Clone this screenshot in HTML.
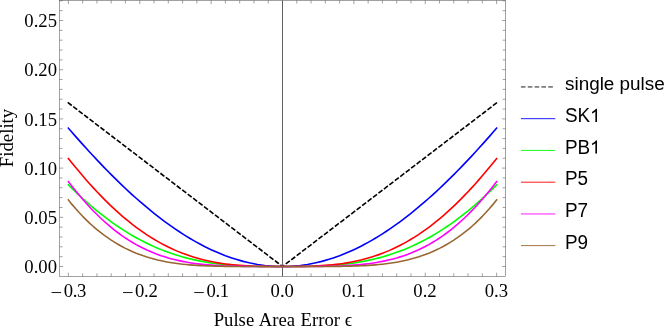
<!DOCTYPE html>
<html><head><meta charset="utf-8"><style>
html,body{margin:0;padding:0;background:#fff;}
div{will-change:transform;}
body{width:664px;height:327px;position:relative;overflow:hidden;font-family:"Liberation Serif",serif;color:#000;}
.yt{position:absolute;left:0;width:57px;text-align:right;font-size:18.7px;line-height:21px;height:21px;}
.xd,.xm{position:absolute;left:0;top:280px;font-size:18.7px;line-height:21px;white-space:nowrap;transform-origin:0 50%;}
.lg{position:absolute;left:564.8px;font-family:"Liberation Sans",sans-serif;font-size:18.9px;line-height:21px;white-space:nowrap;}
.cap{transform-origin:0 17px;}
.t1{position:absolute;opacity:0;}
.one{display:inline-block;width:0.556em;height:0.688em;vertical-align:baseline;}
.xl{position:absolute;left:182.9px;width:200px;text-align:center;top:309px;transform:translateY(0.7px);word-spacing:0.9px;font-size:18.7px;line-height:20px;white-space:nowrap;}
.yl{position:absolute;left:-42.9px;top:128px;width:100px;height:20px;text-align:center;font-size:18.8px;line-height:20px;transform:rotate(-90deg);transform-origin:50% 50%;white-space:nowrap;}
</style></head><body>
<svg width="664" height="327" viewBox="0 0 664 327" style="position:absolute;left:0;top:0">
<path d="M282.50 0.50V276.30" stroke="#000" stroke-width="0.62" fill="none"/>
<g clip-path="url(#c)">
<path d="M68.39 102.94 L282.50 266.50 L496.61 102.94" stroke="#000" stroke-width="1.6" fill="none" stroke-dasharray="3.4 3.46" stroke-linecap="square"/>
<path d="M68.39 128.16 L71.96 132.27 L75.53 136.35 L79.10 140.38 L82.66 144.37 L86.23 148.32 L89.80 152.22 L93.37 156.08 L96.94 159.88 L100.51 163.64 L104.07 167.35 L107.64 171.01 L111.21 174.61 L114.78 178.16 L118.35 181.65 L121.92 185.09 L125.49 188.47 L129.05 191.79 L132.62 195.05 L136.19 198.25 L139.76 201.39 L143.33 204.47 L146.90 207.48 L150.47 210.42 L154.03 213.30 L157.60 216.12 L161.17 218.86 L164.74 221.54 L168.31 224.14 L171.88 226.68 L175.44 229.14 L179.01 231.53 L182.58 233.85 L186.15 236.09 L189.72 238.26 L193.29 240.35 L196.86 242.37 L200.42 244.31 L203.99 246.17 L207.56 247.95 L211.13 249.66 L214.70 251.28 L218.27 252.83 L221.84 254.29 L225.40 255.68 L228.97 256.98 L232.54 258.20 L236.11 259.34 L239.68 260.39 L243.25 261.37 L246.81 262.25 L250.38 263.06 L253.95 263.78 L257.52 264.42 L261.09 264.97 L264.66 265.44 L268.23 265.82 L271.79 266.12 L275.36 266.33 L278.93 266.46 L282.50 266.50 L286.07 266.46 L289.64 266.33 L293.21 266.12 L296.77 265.82 L300.34 265.44 L303.91 264.97 L307.48 264.42 L311.05 263.78 L314.62 263.06 L318.19 262.25 L321.75 261.37 L325.32 260.39 L328.89 259.34 L332.46 258.20 L336.03 256.98 L339.60 255.68 L343.16 254.29 L346.73 252.83 L350.30 251.28 L353.87 249.66 L357.44 247.95 L361.01 246.17 L364.58 244.31 L368.14 242.37 L371.71 240.35 L375.28 238.26 L378.85 236.09 L382.42 233.85 L385.99 231.53 L389.56 229.14 L393.12 226.68 L396.69 224.14 L400.26 221.54 L403.83 218.86 L407.40 216.12 L410.97 213.30 L414.53 210.42 L418.10 207.48 L421.67 204.47 L425.24 201.39 L428.81 198.25 L432.38 195.05 L435.95 191.79 L439.51 188.47 L443.08 185.09 L446.65 181.65 L450.22 178.16 L453.79 174.61 L457.36 171.01 L460.93 167.35 L464.49 163.64 L468.06 159.88 L471.63 156.08 L475.20 152.22 L478.77 148.32 L482.34 144.37 L485.90 140.38 L489.47 136.35 L493.04 132.27 L496.61 128.16" stroke="#0000ff" stroke-width="1.6" fill="none" stroke-linejoin="round" stroke-linecap="square"/>
<path d="M68.39 184.82 L71.96 188.35 L75.53 191.81 L79.10 195.18 L82.66 198.47 L86.23 201.68 L89.80 204.81 L93.37 207.85 L96.94 210.80 L100.51 213.67 L104.07 216.46 L107.64 219.16 L111.21 221.78 L114.78 224.31 L118.35 226.75 L121.92 229.11 L125.49 231.39 L129.05 233.58 L132.62 235.69 L136.19 237.72 L139.76 239.66 L143.33 241.52 L146.90 243.30 L150.47 245.00 L154.03 246.62 L157.60 248.17 L161.17 249.63 L164.74 251.02 L168.31 252.34 L171.88 253.59 L175.44 254.76 L179.01 255.86 L182.58 256.90 L186.15 257.86 L189.72 258.77 L193.29 259.61 L196.86 260.39 L200.42 261.11 L203.99 261.77 L207.56 262.38 L211.13 262.93 L214.70 263.43 L218.27 263.89 L221.84 264.30 L225.40 264.66 L228.97 264.98 L232.54 265.26 L236.11 265.51 L239.68 265.72 L243.25 265.90 L246.81 266.05 L250.38 266.17 L253.95 266.27 L257.52 266.34 L261.09 266.40 L264.66 266.44 L268.23 266.47 L271.79 266.49 L275.36 266.50 L278.93 266.50 L282.50 266.50 L286.07 266.50 L289.64 266.50 L293.21 266.49 L296.77 266.47 L300.34 266.44 L303.91 266.40 L307.48 266.34 L311.05 266.27 L314.62 266.17 L318.19 266.05 L321.75 265.90 L325.32 265.72 L328.89 265.51 L332.46 265.26 L336.03 264.98 L339.60 264.66 L343.16 264.30 L346.73 263.89 L350.30 263.43 L353.87 262.93 L357.44 262.38 L361.01 261.77 L364.58 261.11 L368.14 260.39 L371.71 259.61 L375.28 258.77 L378.85 257.86 L382.42 256.90 L385.99 255.86 L389.56 254.76 L393.12 253.59 L396.69 252.34 L400.26 251.02 L403.83 249.63 L407.40 248.17 L410.97 246.62 L414.53 245.00 L418.10 243.30 L421.67 241.52 L425.24 239.66 L428.81 237.72 L432.38 235.69 L435.95 233.58 L439.51 231.39 L443.08 229.11 L446.65 226.75 L450.22 224.31 L453.79 221.78 L457.36 219.16 L460.93 216.46 L464.49 213.67 L468.06 210.80 L471.63 207.85 L475.20 204.81 L478.77 201.68 L482.34 198.47 L485.90 195.18 L489.47 191.81 L493.04 188.35 L496.61 184.82" stroke="#00ff00" stroke-width="1.6" fill="none" stroke-linejoin="round" stroke-linecap="square"/>
<path d="M68.39 158.56 L71.96 162.98 L75.53 167.33 L79.10 171.60 L82.66 175.79 L86.23 179.90 L89.80 183.92 L93.37 187.85 L96.94 191.68 L100.51 195.42 L104.07 199.07 L107.64 202.61 L111.21 206.06 L114.78 209.40 L118.35 212.64 L121.92 215.78 L125.49 218.81 L129.05 221.74 L132.62 224.56 L136.19 227.28 L139.76 229.89 L143.33 232.40 L146.90 234.81 L150.47 237.11 L154.03 239.30 L157.60 241.40 L161.17 243.39 L164.74 245.28 L168.31 247.08 L171.88 248.77 L175.44 250.37 L179.01 251.88 L182.58 253.30 L186.15 254.62 L189.72 255.86 L193.29 257.01 L196.86 258.08 L200.42 259.07 L203.99 259.98 L207.56 260.82 L211.13 261.58 L214.70 262.27 L218.27 262.90 L221.84 263.46 L225.40 263.96 L228.97 264.40 L232.54 264.79 L236.11 265.13 L239.68 265.42 L243.25 265.67 L246.81 265.87 L250.38 266.04 L253.95 266.18 L257.52 266.28 L261.09 266.36 L264.66 266.42 L268.23 266.46 L271.79 266.48 L275.36 266.49 L278.93 266.50 L282.50 266.50 L286.07 266.50 L289.64 266.49 L293.21 266.48 L296.77 266.46 L300.34 266.42 L303.91 266.36 L307.48 266.28 L311.05 266.18 L314.62 266.04 L318.19 265.87 L321.75 265.67 L325.32 265.42 L328.89 265.13 L332.46 264.79 L336.03 264.40 L339.60 263.96 L343.16 263.46 L346.73 262.90 L350.30 262.27 L353.87 261.58 L357.44 260.82 L361.01 259.98 L364.58 259.07 L368.14 258.08 L371.71 257.01 L375.28 255.86 L378.85 254.62 L382.42 253.30 L385.99 251.88 L389.56 250.37 L393.12 248.77 L396.69 247.08 L400.26 245.28 L403.83 243.39 L407.40 241.40 L410.97 239.30 L414.53 237.11 L418.10 234.81 L421.67 232.40 L425.24 229.89 L428.81 227.28 L432.38 224.56 L435.95 221.74 L439.51 218.81 L443.08 215.78 L446.65 212.64 L450.22 209.40 L453.79 206.06 L457.36 202.61 L460.93 199.07 L464.49 195.42 L468.06 191.68 L471.63 187.85 L475.20 183.92 L478.77 179.90 L482.34 175.79 L485.90 171.60 L489.47 167.33 L493.04 162.98 L496.61 158.56" stroke="#ff0000" stroke-width="1.6" fill="none" stroke-linejoin="round" stroke-linecap="square"/>
<path d="M68.39 181.68 L71.96 186.29 L75.53 190.76 L79.10 195.08 L82.66 199.26 L86.23 203.30 L89.80 207.19 L93.37 210.93 L96.94 214.52 L100.51 217.97 L104.07 221.26 L107.64 224.42 L111.21 227.42 L114.78 230.29 L118.35 233.01 L121.92 235.59 L125.49 238.04 L129.05 240.35 L132.62 242.54 L136.19 244.59 L139.76 246.52 L143.33 248.33 L146.90 250.02 L150.47 251.60 L154.03 253.07 L157.60 254.43 L161.17 255.70 L164.74 256.86 L168.31 257.94 L171.88 258.92 L175.44 259.82 L179.01 260.64 L182.58 261.39 L186.15 262.06 L189.72 262.67 L193.29 263.21 L196.86 263.70 L200.42 264.13 L203.99 264.51 L207.56 264.84 L211.13 265.13 L214.70 265.38 L218.27 265.60 L221.84 265.78 L225.40 265.93 L228.97 266.06 L232.54 266.17 L236.11 266.25 L239.68 266.32 L243.25 266.37 L246.81 266.41 L250.38 266.44 L253.95 266.46 L257.52 266.48 L261.09 266.49 L264.66 266.49 L268.23 266.50 L271.79 266.50 L275.36 266.50 L278.93 266.50 L282.50 266.50 L286.07 266.50 L289.64 266.50 L293.21 266.50 L296.77 266.50 L300.34 266.49 L303.91 266.49 L307.48 266.48 L311.05 266.46 L314.62 266.44 L318.19 266.41 L321.75 266.37 L325.32 266.32 L328.89 266.25 L332.46 266.17 L336.03 266.06 L339.60 265.93 L343.16 265.78 L346.73 265.60 L350.30 265.38 L353.87 265.13 L357.44 264.84 L361.01 264.51 L364.58 264.13 L368.14 263.70 L371.71 263.21 L375.28 262.67 L378.85 262.06 L382.42 261.39 L385.99 260.64 L389.56 259.82 L393.12 258.92 L396.69 257.94 L400.26 256.86 L403.83 255.70 L407.40 254.43 L410.97 253.07 L414.53 251.60 L418.10 250.02 L421.67 248.33 L425.24 246.52 L428.81 244.59 L432.38 242.54 L435.95 240.35 L439.51 238.04 L443.08 235.59 L446.65 233.01 L450.22 230.29 L453.79 227.42 L457.36 224.42 L460.93 221.26 L464.49 217.97 L468.06 214.52 L471.63 210.93 L475.20 207.19 L478.77 203.30 L482.34 199.26 L485.90 195.08 L489.47 190.76 L493.04 186.29 L496.61 181.68" stroke="#ff00ff" stroke-width="1.6" fill="none" stroke-linejoin="round" stroke-linecap="square"/>
<path d="M68.39 199.97 L71.96 204.38 L75.53 208.57 L79.10 212.55 L82.66 216.32 L86.23 219.91 L89.80 223.30 L93.37 226.52 L96.94 229.56 L100.51 232.44 L104.07 235.15 L107.64 237.71 L111.21 240.12 L114.78 242.38 L118.35 244.51 L121.92 246.50 L125.49 248.35 L129.05 250.08 L132.62 251.69 L136.19 253.19 L139.76 254.57 L143.33 255.84 L146.90 257.02 L150.47 258.09 L154.03 259.07 L157.60 259.97 L161.17 260.78 L164.74 261.52 L168.31 262.18 L171.88 262.77 L175.44 263.30 L179.01 263.77 L182.58 264.19 L186.15 264.55 L189.72 264.87 L193.29 265.15 L196.86 265.39 L200.42 265.59 L203.99 265.77 L207.56 265.92 L211.13 266.04 L214.70 266.14 L218.27 266.22 L221.84 266.29 L225.40 266.35 L228.97 266.39 L232.54 266.42 L236.11 266.44 L239.68 266.46 L243.25 266.48 L246.81 266.48 L250.38 266.49 L253.95 266.49 L257.52 266.50 L261.09 266.50 L264.66 266.50 L268.23 266.50 L271.79 266.50 L275.36 266.50 L278.93 266.50 L282.50 266.50 L286.07 266.50 L289.64 266.50 L293.21 266.50 L296.77 266.50 L300.34 266.50 L303.91 266.50 L307.48 266.50 L311.05 266.49 L314.62 266.49 L318.19 266.48 L321.75 266.48 L325.32 266.46 L328.89 266.44 L332.46 266.42 L336.03 266.39 L339.60 266.35 L343.16 266.29 L346.73 266.22 L350.30 266.14 L353.87 266.04 L357.44 265.92 L361.01 265.77 L364.58 265.59 L368.14 265.39 L371.71 265.15 L375.28 264.87 L378.85 264.55 L382.42 264.19 L385.99 263.77 L389.56 263.30 L393.12 262.77 L396.69 262.18 L400.26 261.52 L403.83 260.78 L407.40 259.97 L410.97 259.07 L414.53 258.09 L418.10 257.02 L421.67 255.84 L425.24 254.57 L428.81 253.19 L432.38 251.69 L435.95 250.08 L439.51 248.35 L443.08 246.50 L446.65 244.51 L450.22 242.38 L453.79 240.12 L457.36 237.71 L460.93 235.15 L464.49 232.44 L468.06 229.56 L471.63 226.52 L475.20 223.30 L478.77 219.91 L482.34 216.32 L485.90 212.55 L489.47 208.57 L493.04 204.38 L496.61 199.97" stroke="#996633" stroke-width="1.6" fill="none" stroke-linejoin="round" stroke-linecap="square"/>
</g>
<rect x="59.60" y="0.50" width="446.00" height="275.80" fill="none" stroke="#555" stroke-width="0.55"/>
<path d="M68.39 276.30v-3.60M68.39 0.50v3.60M82.66 276.30v-3.00M82.66 0.50v3.00M96.94 276.30v-3.00M96.94 0.50v3.00M111.21 276.30v-3.00M111.21 0.50v3.00M125.49 276.30v-3.00M125.49 0.50v3.00M139.76 276.30v-3.60M139.76 0.50v3.60M154.03 276.30v-3.00M154.03 0.50v3.00M168.31 276.30v-3.00M168.31 0.50v3.00M182.58 276.30v-3.00M182.58 0.50v3.00M196.86 276.30v-3.00M196.86 0.50v3.00M211.13 276.30v-3.60M211.13 0.50v3.60M225.40 276.30v-3.00M225.40 0.50v3.00M239.68 276.30v-3.00M239.68 0.50v3.00M253.95 276.30v-3.00M253.95 0.50v3.00M268.23 276.30v-3.00M268.23 0.50v3.00M282.50 276.30v-3.60M282.50 0.50v3.60M296.77 276.30v-3.00M296.77 0.50v3.00M311.05 276.30v-3.00M311.05 0.50v3.00M325.32 276.30v-3.00M325.32 0.50v3.00M339.60 276.30v-3.00M339.60 0.50v3.00M353.87 276.30v-3.60M353.87 0.50v3.60M368.14 276.30v-3.00M368.14 0.50v3.00M382.42 276.30v-3.00M382.42 0.50v3.00M396.69 276.30v-3.00M396.69 0.50v3.00M410.97 276.30v-3.00M410.97 0.50v3.00M425.24 276.30v-3.60M425.24 0.50v3.60M439.51 276.30v-3.00M439.51 0.50v3.00M453.79 276.30v-3.00M453.79 0.50v3.00M468.06 276.30v-3.00M468.06 0.50v3.00M482.34 276.30v-3.00M482.34 0.50v3.00M496.61 276.30v-3.60M496.61 0.50v3.60M59.60 266.50h3.60M505.60 266.50h-3.60M59.60 256.66h3.00M505.60 256.66h-3.00M59.60 246.82h3.00M505.60 246.82h-3.00M59.60 236.98h3.00M505.60 236.98h-3.00M59.60 227.14h3.00M505.60 227.14h-3.00M59.60 217.30h3.60M505.60 217.30h-3.60M59.60 207.46h3.00M505.60 207.46h-3.00M59.60 197.62h3.00M505.60 197.62h-3.00M59.60 187.78h3.00M505.60 187.78h-3.00M59.60 177.94h3.00M505.60 177.94h-3.00M59.60 168.10h3.60M505.60 168.10h-3.60M59.60 158.26h3.00M505.60 158.26h-3.00M59.60 148.42h3.00M505.60 148.42h-3.00M59.60 138.58h3.00M505.60 138.58h-3.00M59.60 128.74h3.00M505.60 128.74h-3.00M59.60 118.90h3.60M505.60 118.90h-3.60M59.60 109.06h3.00M505.60 109.06h-3.00M59.60 99.22h3.00M505.60 99.22h-3.00M59.60 89.38h3.00M505.60 89.38h-3.00M59.60 79.54h3.00M505.60 79.54h-3.00M59.60 69.70h3.60M505.60 69.70h-3.60M59.60 59.86h3.00M505.60 59.86h-3.00M59.60 50.02h3.00M505.60 50.02h-3.00M59.60 40.18h3.00M505.60 40.18h-3.00M59.60 30.34h3.00M505.60 30.34h-3.00M59.60 20.50h3.60M505.60 20.50h-3.60M59.60 10.66h3.00M505.60 10.66h-3.00M59.60 0.82h3.00M505.60 0.82h-3.00" stroke="#555" stroke-width="0.55" fill="none"/>
<path d="M520.95 86.95H553.6" stroke="#000" stroke-width="0.9" stroke-dasharray="4.6 2.23" fill="none"/>
<path d="M520.95 118.68H555.3" stroke="#0000ff" stroke-width="0.9" fill="none"/>
<path d="M520.95 150.41H555.3" stroke="#00ff00" stroke-width="0.9" fill="none"/>
<path d="M520.95 182.20H555.3" stroke="#ff0000" stroke-width="0.9" fill="none"/>
<path d="M520.95 213.95H555.3" stroke="#ff00ff" stroke-width="0.9" fill="none"/>
<path d="M520.95 245.60H555.3" stroke="#996633" stroke-width="0.9" fill="none"/>
</svg>
<div class="yt" style="top:256px">0.00</div>
<div class="yt" style="top:207px">0.05</div>
<div class="yt" style="top:158px">0.10</div>
<div class="yt" style="top:109px">0.15</div>
<div class="yt" style="top:59px">0.20</div>
<div class="yt" style="top:10px">0.25</div>
<div class="xd" style="letter-spacing:-0.3px;transform:translate(63.64px,0px)">0.3</div>
<div class="xm" style="transform:translate(50.59px,1.70px) scaleX(1.1)">−</div>
<div class="xd" style="letter-spacing:-0.3px;transform:translate(135.01px,0px)">0.2</div>
<div class="xm" style="transform:translate(121.96px,1.70px) scaleX(1.1)">−</div>
<div class="xd" style="letter-spacing:-0.3px;transform:translate(206.38px,0px)">0.1</div>
<div class="xm" style="transform:translate(193.33px,1.70px) scaleX(1.1)">−</div>
<div class="xd" style="transform:translate(270.55px,0px)">0.0</div>
<div class="xd" style="transform:translate(341.92px,0px)">0.1</div>
<div class="xd" style="transform:translate(413.29px,0px)">0.2</div>
<div class="xd" style="transform:translate(484.66px,0px)">0.3</div>
<div class="lg" style="top:73px">single pulse</div>
<div class="lg cap" style="top:104px;transform:translateY(0.98px) scaleY(1.035)">SK<span class="t1">1</span><svg class="one" viewBox="0 -1472 1139 1472" preserveAspectRatio="none"><path d="M763 0L583 0L583 -1147Q518 -1085 412.5 -1023Q307 -961 223 -930L223 -1104Q374 -1175 487 -1276Q600 -1377 647 -1472L763 -1472Z" fill="#000"/></svg></div>
<div class="lg cap" style="top:136px;transform:translateY(0.71px) scaleY(1.035)">PB<span class="t1">1</span><svg class="one" viewBox="0 -1472 1139 1472" preserveAspectRatio="none"><path d="M763 0L583 0L583 -1147Q518 -1085 412.5 -1023Q307 -961 223 -930L223 -1104Q374 -1175 487 -1276Q600 -1377 647 -1472L763 -1472Z" fill="#000"/></svg></div>
<div class="lg cap" style="top:168px;transform:translateY(0.50px) scaleY(1.035)">P5</div>
<div class="lg cap" style="top:200px;transform:translateY(0.25px) scaleY(1.035)">P7</div>
<div class="lg cap" style="top:231px;transform:translateY(0.90px) scaleY(1.035)">P9</div>
<div class="xl">Pulse Area Error <span style="margin-left:-0.9px">ϵ</span></div>
<div class="yl">Fidelity</div>
</body></html>
